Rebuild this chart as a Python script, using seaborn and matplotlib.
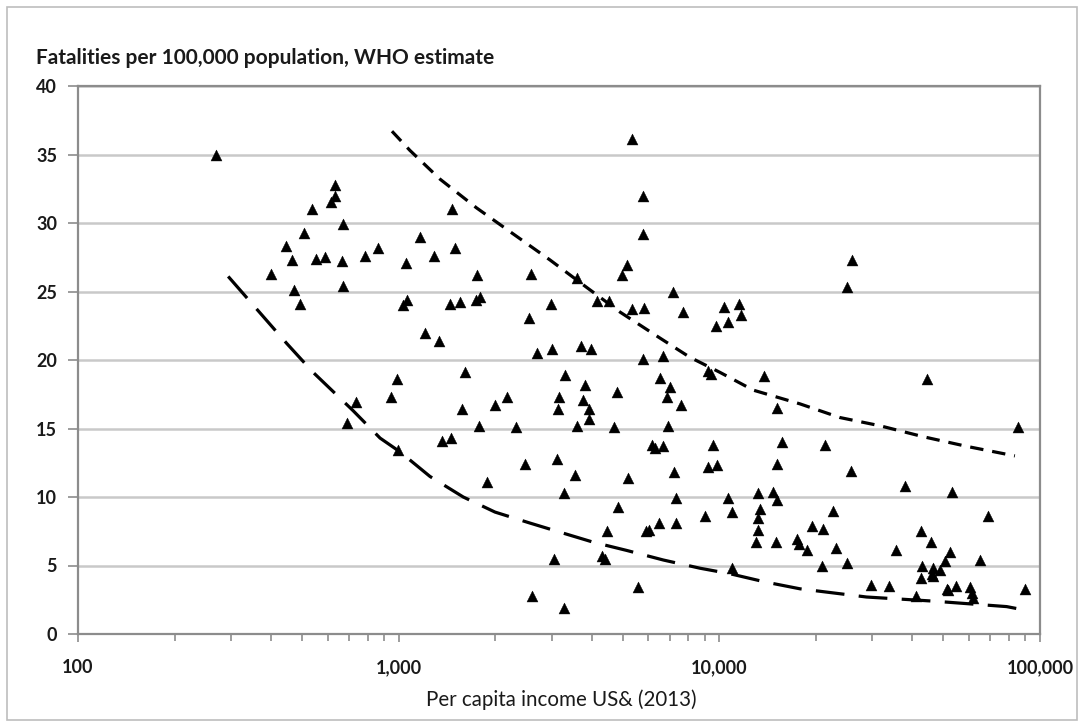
import numpy as np
import pandas as pd
import matplotlib
matplotlib.use("Agg")
import matplotlib.pyplot as plt
from matplotlib.ticker import FuncFormatter, LogLocator, NullFormatter
from matplotlib.patches import Rectangle
import seaborn as sns

# Per-country observations: per capita income (US$, 2013) and road fatalities per 100,000
income = [
    270, 633, 633, 614, 535, 671, 505, 444, 863, 787, 466, 552, 591, 664, 399, 472, 671, 492,
    986, 946, 734, 692, 998,
    1055, 1028, 1064, 1164, 1462, 1499, 1291, 1749, 1445, 1553, 1737, 1791, 1208, 1339, 1611,
    1571, 1997, 2172, 1778, 2323, 1369, 1453, 1879, 2472, 2580, 2547, 2983, 2693, 3013, 3055, 2606,
    3592, 5137, 4978, 5333, 5771, 5771, 7145, 4165, 4522, 5334, 5826, 7720, 9756, 3701, 3969,
    5771, 6693, 9200, 9400, 3311, 3162, 3131, 3813, 3748, 3930, 3930, 4808, 6536, 7020, 6850,
    7586, 3590, 4688, 6936, 6150, 6300, 6693, 9567, 9235, 9840, 3117, 3558, 5199, 7228, 3281,
    7329, 4839, 9016, 6474, 7329, 5890, 6040, 4468, 4300, 4400, 5559, 3281,
    10330, 11540, 11650, 10620, 25960, 25100, 13810, 15100, 44570, 85540, 15650, 21340, 15100,
    25710, 37900, 53120, 10620, 13210, 14730, 15160, 10970, 13400, 13210, 13210, 13050, 14970,
    22610, 19450, 21090, 17490, 17750, 18720, 23140, 20840, 25100, 10970, 29790, 33800, 35460,
    42460, 45620, 42950, 42460, 46450, 45900, 48640, 46450, 50400, 52340, 41020, 51300, 54650,
    51700, 60650, 61500, 62000, 64770, 69060, 89740,
]
fatalities = [
    35.0, 32.8, 32.0, 31.5, 31.0, 29.9, 29.3, 28.3, 28.2, 27.6, 27.3, 27.4, 27.5, 27.2, 26.3, 25.1, 25.4, 24.1,
    18.6, 17.3, 16.9, 15.4, 13.4,
    27.1, 24.0, 24.4, 29.0, 31.0, 28.2, 27.6, 26.2, 24.1, 24.2, 24.4, 24.6, 22.0, 21.4, 19.1,
    16.4, 16.7, 17.3, 15.2, 15.1, 14.1, 14.3, 11.1, 12.4, 26.3, 23.1, 24.1, 20.5, 20.8, 5.5, 2.8,
    26.0, 26.9, 26.2, 36.1, 32.0, 29.2, 25.0, 24.3, 24.3, 23.7, 23.8, 23.5, 22.5, 21.0, 20.8,
    20.1, 20.3, 19.2, 19.0, 18.9, 17.3, 16.4, 18.2, 17.1, 16.4, 15.7, 17.7, 18.7, 18.0, 17.3,
    16.7, 15.2, 15.1, 15.2, 13.8, 13.6, 13.7, 13.8, 12.2, 12.3, 12.8, 11.6, 11.4, 11.8, 10.3,
    9.9, 9.3, 8.6, 8.1, 8.1, 7.5, 7.6, 7.5, 5.7, 5.5, 3.4, 1.9,
    23.9, 24.1, 23.3, 22.8, 27.3, 25.3, 18.8, 16.5, 18.6, 15.1, 14.0, 13.8, 12.4,
    11.9, 10.8, 10.4, 9.9, 10.3, 10.4, 9.8, 8.9, 9.1, 8.5, 7.6, 6.7, 6.7,
    9.0, 7.9, 7.7, 6.9, 6.6, 6.1, 6.3, 5.0, 5.2, 4.8, 3.6, 3.5, 6.1,
    7.5, 6.7, 5.0, 4.1, 4.8, 4.4, 4.7, 4.2, 5.3, 6.0, 2.8, 3.3, 3.5,
    3.2, 3.4, 3.0, 2.6, 5.4, 8.6, 3.3,
]

# Upper envelope curve (short dashes)
upper_income = [953, 1084, 1346, 1750, 2277, 2965, 3857, 4900, 6530, 8094, 10040, 12760,
                17830, 23770, 31690, 43250, 58980, 83500]
upper_rate = [36.7, 35.3, 33.2, 31.1, 29.2, 27.3, 25.3, 23.5, 21.6, 20.2, 19.1, 17.8,
              16.8, 15.8, 15.2, 14.4, 13.7, 13.0]

# Lower envelope curve (long dashes)
lower_income = [294, 448, 541, 721, 875, 1009, 1252, 1590, 1997, 2565, 3219, 4046, 5142,
                6690, 8710, 10790, 13880, 17830, 22640, 28770, 36560, 46450, 60400, 78700, 91800]
lower_rate = [26.1, 21.2, 19.1, 16.3, 14.3, 13.3, 11.5, 10.0, 8.9, 8.1, 7.4, 6.7, 6.1,
              5.4, 4.8, 4.4, 3.8, 3.3, 3.0, 2.7, 2.55, 2.4, 2.2, 2.0, 1.7]

x_ticks = [100, 1000, 10000, 100000]
y_ticks = [0, 5, 10, 15, 20, 25, 30, 35, 40]

sns.set_theme(style="white")
plt.rcParams["font.family"] = ["Lato", "DejaVu Sans"]

W, H = 1084, 726
fig = plt.figure(figsize=(W / 100, H / 100), dpi=100)
fig.patch.set_facecolor("white")
ax = fig.add_axes([78 / W, 1 - 634 / H, (1040 - 78) / W, (634 - 86) / H])

pts = pd.DataFrame({"income": income, "rate": fatalities})
up = pd.DataFrame({"income": upper_income, "rate": upper_rate})
lo = pd.DataFrame({"income": lower_income, "rate": lower_rate})

ax.set_xscale("log")

sns.lineplot(data=up, x="income", y="rate", ax=ax, color="black", lw=2.3,
             sort=False, estimator=None, dashes=False, zorder=3)
ax.lines[-1].set_dashes((4.2, 2.8))
sns.lineplot(data=lo, x="income", y="rate", ax=ax, color="black", lw=2.3,
             sort=False, estimator=None, dashes=False, zorder=3)
ax.lines[-1].set_dashes((9.0, 4.5))

sns.scatterplot(data=pts, x="income", y="rate", ax=ax, marker="^", s=62,
                color="black", edgecolor="black", linewidth=0.3, zorder=4)

ax.set_xlim(100, 100000)
ax.set_ylim(0, 40)
ax.set_yticks(y_ticks)
ax.set_xticks(x_ticks)
ax.xaxis.set_major_formatter(FuncFormatter(lambda v, p: f"{v:,.0f}"))
ax.xaxis.set_minor_locator(LogLocator(base=10, subs=np.arange(2, 10)))
ax.xaxis.set_minor_formatter(NullFormatter())

ax.grid(axis="y", color="#c9c9c9", lw=1.8, zorder=0)
ax.grid(axis="x", visible=False)
ax.set_axisbelow(True)

for s in ax.spines.values():
    s.set_visible(True)
    s.set_color("#8c8c8c")
    s.set_linewidth(1.6)

ax.tick_params(axis="both", which="both", direction="out", color="#8c8c8c", width=1.2)
ax.tick_params(axis="y", which="major", length=7, pad=8, labelsize=13)
ax.tick_params(axis="x", which="major", length=6, pad=12, labelsize=13)
ax.tick_params(axis="x", which="minor", length=5)
ax.tick_params(axis="x", which="both", bottom=True)
ax.tick_params(axis="y", which="both", left=True)
for lab in ax.get_xticklabels() + ax.get_yticklabels():
    lab.set_fontweight("bold")
    lab.set_color("#1a1a1a")

ax.set_xlabel("")
ax.set_ylabel("")

fig.text(36 / W, 1 - 58 / H, "Fatalities per 100,000 population, WHO estimate",
         fontsize=15, fontweight="bold", color="#1a1a1a", ha="left", va="center")
fig.text(561 / W, 1 - 700 / H, "Per capita income US& (2013)",
         fontsize=14.8, color="#1a1a1a", ha="center", va="center")

# Outer chart frame
fig.patches.append(Rectangle((7 / W, 1 - 720 / H), (1077 - 7) / W, (720 - 7) / H,
                             transform=fig.transFigure, fill=False,
                             edgecolor="#bdbdbd", lw=1.2))

fig.savefig("out.png", dpi=100)
